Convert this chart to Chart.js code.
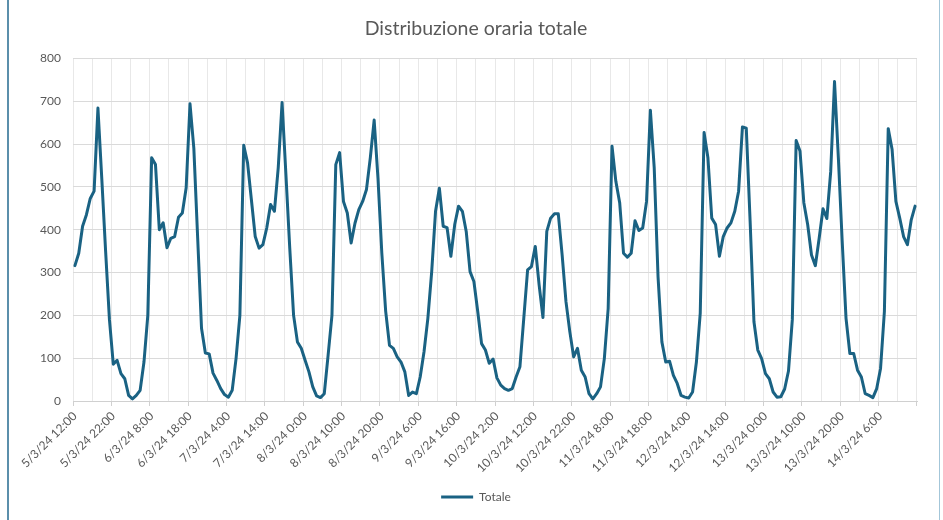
<!DOCTYPE html>
<html>
<head>
<meta charset="utf-8">
<script src="https://cdn.jsdelivr.net/npm/chart.js@4.4.1/dist/chart.umd.min.js"></script>
<style>
  html, body { margin: 0; padding: 0; background: #fff; overflow: hidden; }
  #wrap { position: relative; width: 943px; height: 520px; }
  .edge { position: absolute; top: 0; bottom: 0; }
  #edgeL { left: 7px; width: 2px; background: #5b8fab; }
  #edgeR { left: 939px; width: 1px; background: #a3c6d9; }
</style>
</head>
<body>
<div id="wrap">
  <canvas id="chart"></canvas>
  <div class="edge" id="edgeL"></div>
  <div class="edge" id="edgeR"></div>
</div>
<script>
// hourly totals, from 5/3/24 12:00 onwards
const totale = [
  316, 345, 408, 435, 473, 490, 684, 520, 350, 190,
  86, 95, 64, 52, 13, 5, 13, 25, 91, 200,
  568, 552, 400, 416, 358, 380, 384, 429, 439, 498,
  694, 590, 380, 170, 112, 110, 65, 48, 29, 15,
  9, 25, 99, 200, 597, 556, 470, 384, 357, 365,
  404, 459, 443, 545, 697, 529, 357, 200, 138, 123,
  95, 68, 33, 12, 8, 17, 107, 200, 552, 580,
  466, 439, 369, 415, 447, 466, 494, 568, 656, 520,
  345, 210, 130, 123, 103, 91, 68, 13, 21, 17,
  56, 115, 193, 302, 443, 497, 408, 405, 338, 412,
  455, 443, 396, 302, 279, 209, 134, 119, 88, 98,
  54, 37, 29, 25, 29, 56, 80, 193, 306, 314,
  361, 271, 195, 396, 427, 437, 437, 341, 232, 162,
  103, 123, 72, 56, 17, 5, 17, 33, 99, 216,
  595, 513, 463, 345, 336, 345, 421, 398, 404, 466,
  679, 545, 290, 138, 91, 93, 60, 41, 13, 9,
  7, 21, 91, 205, 627, 568, 427, 412, 338, 384,
  404, 416, 443, 490, 640, 637, 420, 185, 119, 99,
  64, 52, 21, 9, 10, 28, 70, 190, 608, 584,
  463, 412, 341, 316, 380, 449, 426, 535, 746, 568,
  373, 193, 111, 111, 72, 56, 17, 13, 8, 29,
  76, 209, 636, 588, 466, 427, 384, 365, 423, 455
];

const startDay = 5;
const startHour = 12;
const labelEvery = 10;
const yMax = 800;
const yStep = 100;

// category labels: d/3/24 h:00, one per hour
const orari = [];
for (let i = 0; i < totale.length; i++) {
  const h = startHour + i;
  orari.push((startDay + Math.floor(h / 24)) + '/3/24 ' + (h % 24) + ':00');
}

const grey = '#595959';
const font = { family: 'Lato', size: 12 };

new Chart(document.getElementById('chart'), {
  type: 'line',
  data: {
    labels: orari,
    datasets: [{
      label: 'Totale',
      data: totale,
      borderColor: '#1a6283',
      backgroundColor: '#1a6283',
      borderWidth: 3,
      pointRadius: 0,
      tension: 0,
      borderJoinStyle: 'round',
      borderCapStyle: 'round'
    }]
  },
  options: {
    responsive: true,
    maintainAspectRatio: false,
    animation: false,
    layout: { padding: { left: 9, right: 0, top: 0, bottom: 7 } },
    scales: {
      x: {
        offset: true,
        grid: {
          offset: true,
          lineWidth: 1,
          tickLength: 5,
          color: (c) => (c.index === undefined || c.index % 5 === 0) ? '#e8e8e8' : 'transparent',
          tickColor: (c) => (c.index === undefined || c.index % labelEvery === 0) ? '#d0d0d0' : 'transparent'
        },
        border: { color: '#d0d0d0' },
        ticks: {
          autoSkip: false,
          minRotation: 45,
          maxRotation: 45,
          padding: 3,
          color: grey,
          font: font,
          callback: (v, i) => i % labelEvery === 0 ? orari[i] : ''
        },
        afterFit: (s) => { s.height = 80; }
      },
      y: {
        min: 0,
        max: yMax,
        grid: { color: '#dadada', drawTicks: false },
        border: { display: false },
        ticks: { stepSize: yStep, padding: 12, color: grey, font: font },
        afterFit: (s) => { s.width = 64; }
      },
      // empty right-hand axis, keeps the plot clear of the right edge
      y2: {
        position: 'right',
        grid: { display: false },
        border: { display: false },
        ticks: { display: false },
        afterFit: (s) => { s.width = 26; }
      }
    },
    plugins: {
      title: {
        display: true,
        text: 'Distribuzione oraria totale',
        color: grey,
        font: { family: 'Lato', size: 19.5, weight: 'normal' },
        padding: { top: 17, bottom: 18 }
      },
      legend: {
        position: 'bottom',
        labels: {
          usePointStyle: true,
          pointStyle: 'line',
          pointStyleWidth: 32,
          color: grey,
          font: font,
          padding: 10
        }
      },
      tooltip: { enabled: false }
    }
  }
});
</script>
</body>
</html>
